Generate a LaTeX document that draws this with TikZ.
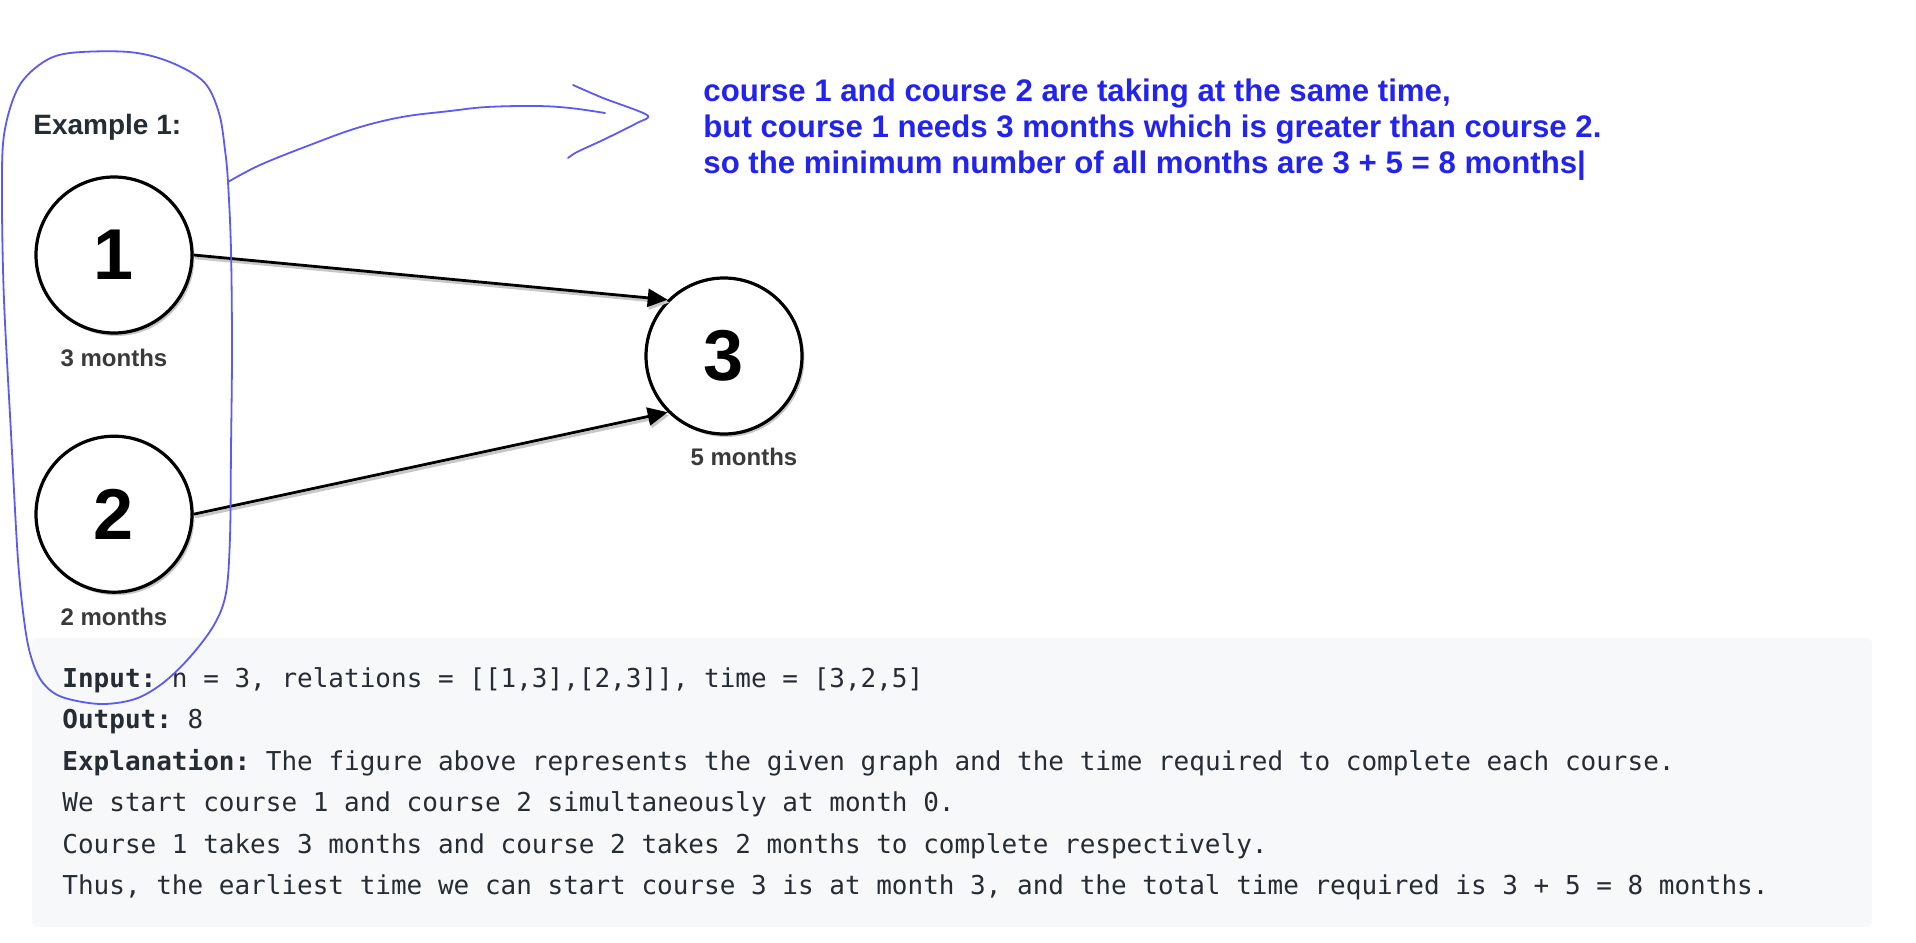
\documentclass[tikz,border=0pt]{standalone}
\usepackage{fontspec}
\setmainfont{Liberation Sans}
\setmonofont{DejaVu Sans Mono}
\usepackage{tikz}
\usetikzlibrary{positioning,arrows.meta,shadows}
\definecolor{noteblue}{HTML}{2323EE}
\definecolor{penblue} {HTML}{5B5BF2}
\definecolor{codebg}  {HTML}{F7F8FA}
\definecolor{codeink} {HTML}{262C33}
\definecolor{lblgray} {HTML}{3A3A3A}

\begin{document}
\begin{tikzpicture}[x=0.5pt, y=-0.5pt,
  course/.style  ={circle, draw=black, fill=white, line width=1.6pt,
                   minimum size=78pt, inner sep=0pt,
                   font=\fontsize{36pt}{36pt}\selectfont\bfseries,
                   drop shadow={shadow xshift=1.2pt, shadow yshift=-1.5pt,
                                fill=black, opacity=0.22}},
  dur/.style     ={font=\fontsize{12pt}{14pt}\selectfont\bfseries,
                   text=lblgray, inner sep=0pt},
  ar/.style      ={-{Triangle[length=10pt, width=9pt]}, line width=1.4pt},
  arshadow/.style={ar, draw=black!22, fill=black!22,
                   transform canvas={shift={(0.8pt,-1.4pt)}}},
  note/.style    ={anchor=base west, inner sep=0pt, text=noteblue,
                   font=\fontsize{15.6pt}{18pt}\selectfont\bfseries},
  code/.style    ={anchor=base west, inner sep=0pt, text=codeink,
                   font=\ttfamily\fontsize{13pt}{16pt}\selectfont},
  pen/.style     ={draw=penblue, line width=0.9pt, line cap=round, line join=round},
]

\fill[white] (0,0) rectangle (1916,942);
\useasboundingbox (0,0) rectangle (1916,942);

\fill[codebg, rounded corners=3pt] (32,638) rectangle (1872,927);

\node[anchor=base west, inner sep=0pt, text=codeink,
      font=\fontsize{14pt}{16pt}\selectfont\bfseries] (ex) at (33,134) {Example 1:};

\node[course] (c1) at (114,255) {1};
\node[course, below=50pt of c1] (c2) {2};
\node[course] (c3) at (724,356) {3};

\node[dur, below=7pt of c1] (d1) {3 months};
\node[dur, below=7pt of c2] (d2) {2 months};
\node[dur, below=6pt of c3, xshift=10pt] (d3) {5 months};

\draw[arshadow] (c1.east) -- (c3.135);
\draw[arshadow] (c2.east) -- (c3.225);
\draw[ar] (c1.east) -- (c3.135);
\draw[ar] (c2.east) -- (c3.225);

\node[note] (n1) at (703,101) {course 1 and course 2 are taking at the same time,};
\node[note] (n2) at (703,137) {but course 1 needs 3 months which is greater than course 2.};
\node[note] (n3) at (703,173) {so the minimum number of all months are 3 + 5 = 8 months|};

\node[code] (inp)  at (62,687) {\textbf{Input:} n = 3, relations = [[1,3],[2,3]], time = [3,2,5]};
\node[code] (outp) at (62,728) {\textbf{Output:} 8};
\node[code] (expl) at (62,770) {\textbf{Explanation:} The figure above represents the given graph and the time required to complete each course.};
\node[code] (ln4)  at (62,811) {We start course 1 and course 2 simultaneously at month 0.};
\node[code] (ln5)  at (62,853) {Course 1 takes 3 months and course 2 takes 2 months to complete respectively.};
\node[code] (ln6)  at (62,894) {Thus, the earliest time we can start course 3 is at month 3, and the total time required is 3 + 5 = 8 months.};

\draw[pen] plot[smooth cycle, tension=0.55] coordinates {
  (228,182) (231,250) (232,350) (231,450) (230,537) (226,593) (214,625)
  (190,657) (163,683) (135,699) (100,704) (62,697) (43,683) (32,660)
  (25,627) (18,560) (11,433) (4,300) (2,200) (4,135) (18,88) (42,63)
  (70,53) (129,52) (170,62) (204,82) (219,113) (225,150)};

\coordinate (pentip) at (647,115);
\draw[pen] plot[smooth, tension=0.6] coordinates {
  (228,182) (260,165) (310,145) (357,128) (402,117) (450,111)
  (487,107) (536,106) (570,108) (605,113)};
\draw[pen] plot[smooth, tension=0.5] coordinates {
  (573,85) (603,98) (pentip) (637,123) (603,140) (577,152) (568,158)};

\end{tikzpicture}
\end{document}
